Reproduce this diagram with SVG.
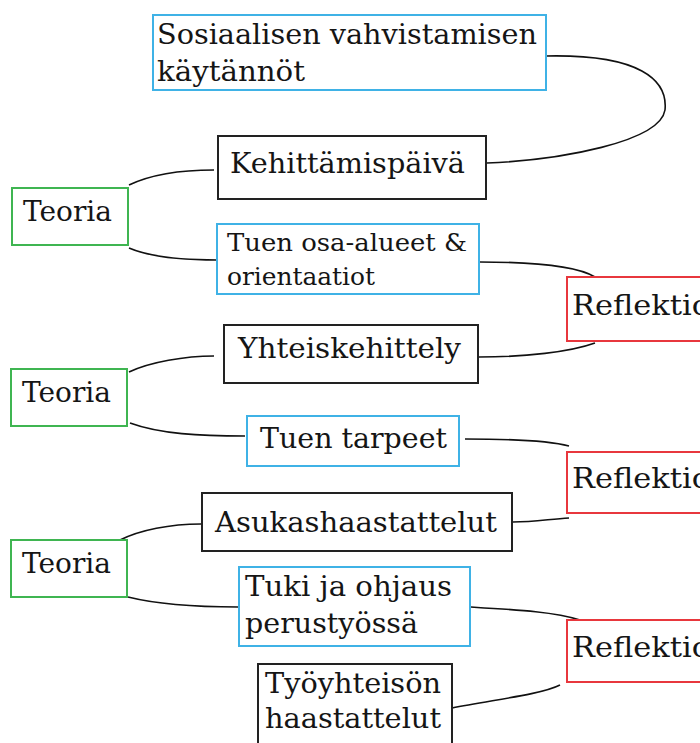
<svg xmlns="http://www.w3.org/2000/svg" width="700" height="743" viewBox="0 0 700 743">
<style>
text{font-family:"DejaVu Serif","Liberation Serif",serif;fill:#151515;font-size:28px}
.sm{font-size:25px}
rect{fill:#fff;stroke-width:2}
.b{stroke:#3fb2e6}.k{stroke:#222}.g{stroke:#3fb551}.r{stroke:#e8373d}
.edge{fill:none;stroke:#222;stroke-width:2}
.c path{fill:none;stroke:#111;stroke-width:1.6}
</style>
<rect x="0" y="0" width="700" height="743" fill="#fff" stroke="none"/>
<g class="c" id="connectors">
<path d="M546,56 C640,54 668,80 665,110 C660,142 560,160 487,163"/>
<path d="M129,185 C150,175 180,170 214,170"/>
<path d="M129,248 C150,257 180,260 217,260"/>
<path d="M480,262 C530,262 575,265 595,277"/>
<path d="M479,357 C525,357 570,352 595,343"/>
<path d="M129,372 C150,362 185,356 214,356"/>
<path d="M130,423 C160,434 200,436 245,436"/>
<path d="M465,439 C520,439 550,441 569,446"/>
<path d="M513,522 C535,522 550,519 569,518"/>
<path d="M120,540 C140,530 170,524 201,524"/>
<path d="M128,597 C160,605 200,607 238,607"/>
<path d="M471,607 C520,610 555,612 580,620"/>
<path d="M452,708 C490,700 540,695 560,685"/>
</g>
<g id="n-sosiaalisen"><rect class="b" x="153" y="15" width="393" height="75"/><text x="157" y="44" textLength="380" lengthAdjust="spacingAndGlyphs">Sosiaalisen vahvistamisen</text><text x="157" y="81" textLength="148" lengthAdjust="spacingAndGlyphs">käytännöt</text></g>
<g id="n-kehittamispaiva"><rect class="k" x="218" y="136" width="268" height="63" stroke="none"/><path class="edge" d="M218,177 V136 H486 V199 H218 V187"/><text x="230" y="173" textLength="235" lengthAdjust="spacingAndGlyphs">Kehittämispäivä</text></g>
<g id="n-teoria1"><rect class="g" x="12" y="188" width="116" height="57"/><text x="23" y="221" textLength="89" lengthAdjust="spacingAndGlyphs">Teoria</text></g>
<g id="n-tuen-osa"><rect class="b" x="217" y="224" width="262" height="70"/><text class="sm" x="227" y="251" textLength="240" lengthAdjust="spacingAndGlyphs">Tuen osa-alueet &amp;</text><text class="sm" x="227" y="285" textLength="148" lengthAdjust="spacingAndGlyphs">orientaatiot</text></g>
<g id="n-reflektio1"><rect class="r" x="567" y="277" width="140" height="64"/><text x="572" y="315" textLength="138" lengthAdjust="spacingAndGlyphs">Reflektio</text></g>
<g id="n-yhteiskehittely"><rect class="k" x="224" y="325" width="254" height="58"/><text x="238" y="358" textLength="223" lengthAdjust="spacingAndGlyphs">Yhteiskehittely</text></g>
<g id="n-teoria2"><rect class="g" x="11" y="369" width="116" height="57"/><text x="22" y="402" textLength="89" lengthAdjust="spacingAndGlyphs">Teoria</text></g>
<g id="n-tuen-tarpeet"><rect class="b" x="247" y="416" width="212" height="50"/><text x="260" y="448" textLength="187" lengthAdjust="spacingAndGlyphs">Tuen tarpeet</text></g>
<g id="n-reflektio2"><rect class="r" x="567" y="452" width="140" height="61"/><text x="572" y="488" textLength="138" lengthAdjust="spacingAndGlyphs">Reflektio</text></g>
<g id="n-asukas"><rect class="k" x="202" y="493" width="310" height="58"/><text x="215" y="532" textLength="282" lengthAdjust="spacingAndGlyphs">Asukashaastattelut</text></g>
<g id="n-teoria3"><rect class="g" x="11" y="540" width="116" height="57"/><text x="22" y="573" textLength="89" lengthAdjust="spacingAndGlyphs">Teoria</text></g>
<g id="n-tuki"><rect class="b" x="239" y="567" width="231" height="79"/><text x="245" y="596" textLength="207" lengthAdjust="spacingAndGlyphs">Tuki ja ohjaus</text><text x="245" y="633" textLength="173" lengthAdjust="spacingAndGlyphs">perustyössä</text></g>
<g id="n-reflektio3"><rect class="r" x="567" y="620" width="140" height="62"/><text x="572" y="657" textLength="138" lengthAdjust="spacingAndGlyphs">Reflektio</text></g>
<g id="n-tyoyhteison"><rect class="k" x="258" y="664" width="194" height="85"/><text x="265" y="693" textLength="176" lengthAdjust="spacingAndGlyphs">Työyhteisön</text><text x="265" y="728" textLength="176" lengthAdjust="spacingAndGlyphs">haastattelut</text></g>
</svg>
